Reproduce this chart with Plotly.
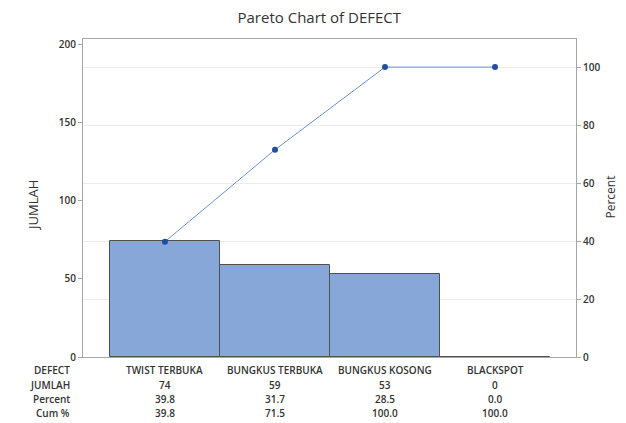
import plotly.graph_objects as go

categories = ["TWIST TERBUKA", "BUNGKUS TERBUKA", "BUNGKUS KOSONG", "BLACKSPOT"]
jumlah = [74, 59, 53, 0]
percent = [39.8, 31.7, 28.5, 0.0]
cum_pct = [39.8, 71.5, 100.0, 100.0]
row_labels = ["DEFECT", "JUMLAH", "Percent", "Cum %"]

W, H = 626, 423
L, R, T, B = 83, 50, 39, 66
FONT = "Open Sans"
TXT = "#333333"
AX = "#a6a6a6"

xs = list(range(len(categories)))

fig = go.Figure()
fig.add_trace(go.Bar(
    x=xs, y=jumlah, width=1.0,
    marker=dict(color="#87a7d8", line=dict(color="#505050", width=1)),
    yaxis="y", showlegend=False,
))
fig.add_trace(go.Scatter(
    x=xs, y=cum_pct, mode="lines+markers",
    line=dict(color="#6a90d2", width=1),
    marker=dict(color="#1f4fa0", size=6),
    yaxis="y2", showlegend=False,
))

tickfont = dict(family=FONT, size=10, color=TXT, weight=600)
fig.update_layout(
    width=W, height=H,
    margin=dict(l=L, r=R, t=T, b=B),
    paper_bgcolor="white", plot_bgcolor="white",
    bargap=0,
    title=dict(text="Pareto Chart of DEFECT", x=0.51, xanchor="center",
               y=1 - 18 / H, yanchor="middle",
               font=dict(family=FONT, size=15, color=TXT)),
    xaxis=dict(range=[-0.745, 3.736], showticklabels=False, showgrid=False,
               showline=True, linecolor=AX, mirror=True, zeroline=False,
               ticks=""),
    yaxis=dict(range=[0, 203.2], tickvals=[0, 50, 100, 150, 200],
               showgrid=False, showline=True, linecolor=AX, ticks="outside",
               ticklen=4, tickcolor=AX, tickfont=tickfont, zeroline=False),
    yaxis2=dict(range=[0, 109.7], tickvals=[0, 20, 40, 60, 80, 100],
                overlaying="y", side="right", showgrid=True,
                gridcolor="#ebebeb", showline=True, linecolor=AX,
                ticks="outside", ticklen=4, tickcolor=AX, tickfont=tickfont,
                zeroline=False),
)

ann = []
ann.append(dict(text="JUMLAH", xref="paper", yref="paper", x=0, y=0.5,
                xshift=22 - L, yshift=-8, textangle=-90, showarrow=False,
                font=dict(family=FONT, size=13, color=TXT, weight=500)))
ann.append(dict(text="Percent", xref="paper", yref="paper", x=1, y=0.5,
                xshift=620 - (W - R), yshift=-(197 - (T + (H - T - B) / 2)),
                textangle=-90, showarrow=False,
                font=dict(family=FONT, size=12, color=TXT)))

row_y = [370, 385, 399, 413]
rows = [categories, [str(v) for v in jumlah],
        [f"{v:.1f}" for v in percent], [f"{v:.1f}" for v in cum_pct]]
cellfont = dict(family=FONT, size=10, color=TXT, weight=600)
for ry, lab, vals in zip(row_y, row_labels, rows):
    ann.append(dict(text=lab, xref="paper", yref="paper", x=0, y=0,
                    xanchor="right", yanchor="middle", xshift=72 - L,
                    yshift=-(ry - (H - B)), showarrow=False, font=cellfont))
    for xi, v in zip(xs, vals):
        ann.append(dict(text=v, xref="x", yref="paper", x=xi, y=0,
                        xanchor="center", yanchor="middle",
                        yshift=-(ry - (H - B)), showarrow=False,
                        font=cellfont))
fig.update_layout(annotations=ann)

fig.write_html("out.html", config={"displayModeBar": False},
               post_script="document.body.style.margin='0';document.body.style.overflow='hidden';")
